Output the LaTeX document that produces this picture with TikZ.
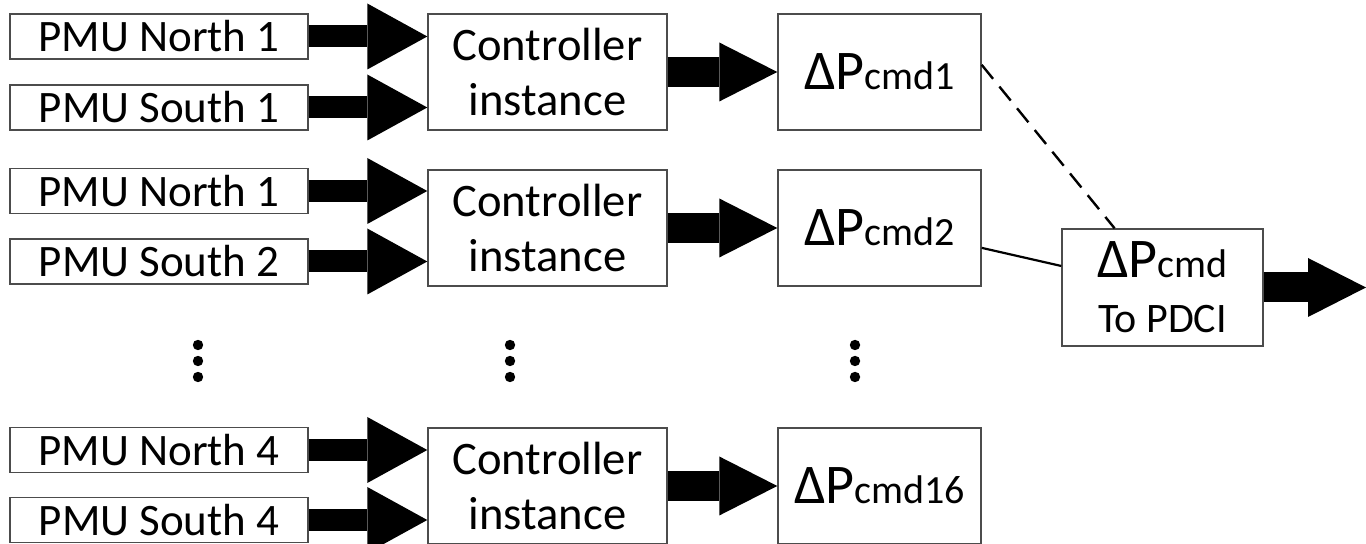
\documentclass[tikz,border=0pt]{standalone}
\usepackage{fontspec}
\setmainfont{Carlito}
\usetikzlibrary{arrows.meta}

\newcommand{\deltap}[1]{{\fontsize{28}{32}\selectfont ΔP}{\fontsize{20}{24}\selectfont #1}}

\begin{document}
\begin{tikzpicture}[
    x=0.5pt, y=-0.5pt,
    pmu/.style={draw=black!70, line width=0.7pt, minimum width=149pt,
                minimum height=22.5pt, inner sep=0pt,
                font=\fontsize{22.5}{24}\selectfont},
    ctrl/.style={draw=black!70, line width=0.7pt, minimum width=119.5pt,
                 minimum height=58pt, inner sep=0pt, align=center,
                 font=\fontsize{23.3}{27.5}\selectfont},
    dpbox/.style={draw=black!70, line width=0.7pt, minimum width=101.5pt,
                  minimum height=58pt, inner sep=0pt, align=center},
    inarrow/.style={line width=11pt,
                    -{Triangle[length=30pt, width=33pt, line width=0pt]}},
    outarrow/.style={line width=15pt,
                     -{Triangle[length=29pt, width=29.5pt, line width=0pt]}}
  ]
  \useasboundingbox (0,0) rectangle (1366,544);
  % PMU inputs
  \node[pmu] (n1) at (159,36.5) {PMU North 1};
  \node[pmu] (s1) at (159,107.5) {PMU South 1};
  \node[pmu] (n2) at (159,191) {PMU North 1};
  \node[pmu] (s2) at (159,261.5) {PMU South 2};
  \node[pmu] (n4) at (159,450) {PMU North 4};
  \node[pmu] (s4) at (159,520) {PMU South 4};
  % Controller instances
  \node[ctrl] (c1) at (547.5,72) {Controller\\instance};
  \node[ctrl] (c2) at (547.5,228) {Controller\\instance};
  \node[ctrl] (c16) at (547.5,486) {Controller\\instance};
  % Outputs
  \node[dpbox] (dp1) at (879.5,72) {\deltap{cmd1}};
  \node[dpbox] (dp2) at (879.5,228) {\deltap{cmd2}};
  \node[dpbox] (dp16) at (879.5,486) {\deltap{cmd16}};
  % Sum to PDCI
  \node[dpbox, minimum width=100.5pt, minimum height=58.5pt,
        font=\fontsize{21}{27.5}\selectfont] (fin) at (1162.5,287.5)
        {\deltap{cmd}\\To PDCI};
  \coordinate (pdci) at (1366,287.5);
  % Arrows
  \draw[inarrow] (n1.east) -- (n1.east -| c1.west);
  \draw[inarrow] (s1.east) -- (s1.east -| c1.west);
  \draw[inarrow] (n2.east) -- (n2.east -| c2.west);
  \draw[inarrow] (s2.east) -- (s2.east -| c2.west);
  \draw[inarrow] (n4.east) -- (n4.east -| c16.west);
  \draw[inarrow] (s4.east) -- (s4.east -| c16.west);
  \draw[outarrow] (c1) -- (dp1);
  \draw[outarrow] (c2) -- (dp2);
  \draw[outarrow] (c16) -- (dp16);
  \draw[outarrow] (fin.east) -- (pdci);
  % Links
  \draw[line width=1.2pt, dash pattern=on 9pt off 5pt] (dp1.4) -- (fin.129);
  \draw[line width=1.1pt] (dp2.-11) -- (fin.168);
  % Dots
  \foreach \x in {198,510,855}
    \foreach \y in {345,361,377}
      \fill (\x,\y) circle (2.6pt);
\end{tikzpicture}
\end{document}
